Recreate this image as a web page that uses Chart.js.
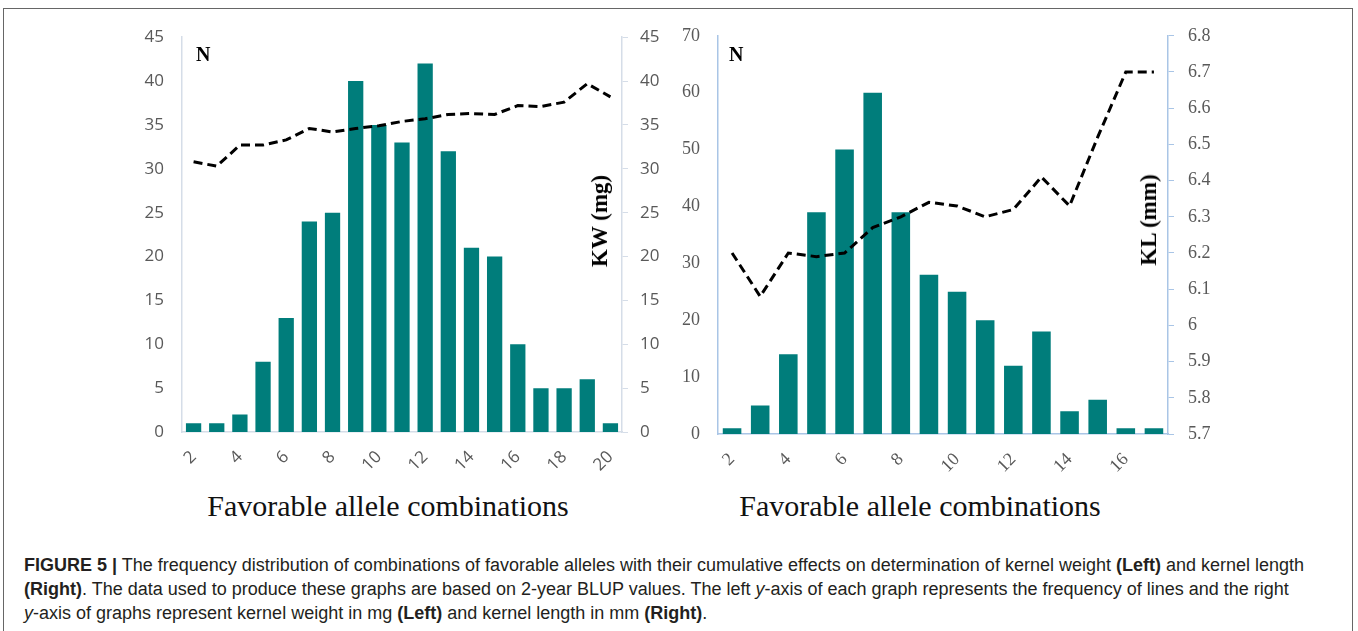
<!DOCTYPE html>
<html>
<head>
<meta charset="utf-8">
<script src="https://cdn.jsdelivr.net/npm/chart.js@4.4.1/dist/chart.umd.min.js"></script>
<style>
  html, body { margin: 0; padding: 0; background: #fff; }
  body { width: 1358px; height: 631px; position: relative; overflow: hidden; }
  .frame { position: absolute; left: 3px; top: 8px; width: 1350px; height: 640px; border: 1.5px solid #666; box-sizing: border-box; }
  canvas { position: absolute; }
  .lbl { position: absolute; white-space: nowrap; line-height: 1; color: #000; }
  .n { font: bold 20px "Liberation Serif", serif; }
  .ytitle { font: bold 23px "Liberation Serif", serif; transform: translate(-50%, -50%) rotate(-90deg); }
  .xtitle { font: 30px "Liberation Serif", serif; transform: translateX(-50%); color: #111; }
  .caption { position: absolute; left: 24px; top: 553px; font: 18px "Liberation Sans", Arial, sans-serif; color: #231f20; line-height: 24px; white-space: nowrap; }
  .caption b { font-weight: bold; }
</style>
</head>
<body>
<div class="frame"></div>
<canvas id="kw" width="580" height="471" style="left:100px;top:9px;"></canvas>
<canvas id="kl" width="580" height="473" style="left:660px;top:7px;"></canvas>

<div class="lbl n" style="left:196px;top:43px;">N</div>
<div class="lbl n" style="left:729px;top:43px;">N</div>
<div class="lbl ytitle" style="left:600px;top:221px;">KW (mg)</div>
<div class="lbl ytitle" style="left:1149px;top:220px;">KL (mm)</div>
<div class="lbl xtitle" style="left:388px;top:489px;">Favorable allele combinations</div>
<div class="lbl xtitle" style="left:920px;top:489px;">Favorable allele combinations</div>

<div class="caption">
<b>FIGURE 5 |</b> The frequency distribution of combinations of favorable alleles with their cumulative effects on determination of kernel weight <b>(Left)</b> and kernel length<br>
<b>(Right)</b>. The data used to produce these graphs are based on 2-year BLUP values. The left <i>y</i>-axis of each graph represents the frequency of lines and the right<br>
<i>y</i>-axis of graphs represent kernel weight in mg <b>(Left)</b> and kernel length in mm <b>(Right)</b>.
</div>

<script>
// Kernel weight panel: number of lines per count of favorable alleles, and mean KW (mg)
const kwCombos = [2, 3, 4, 5, 6, 7, 8, 9, 10, 11, 12, 13, 14, 15, 16, 17, 18, 19, 20];
const kwLines  = [1, 1, 2, 8, 13, 24, 25, 40, 35, 33, 42, 32, 21, 20, 10, 5, 5, 6, 1];
const kwMean   = [30.8, 30.3, 32.7, 32.7, 33.3, 34.6, 34.2, 34.6, 34.9, 35.4, 35.7, 36.2, 36.3, 36.2, 37.2, 37.1, 37.6, 39.7, 38.2];

// Kernel length panel: number of lines per count of favorable alleles, and mean KL (mm)
const klCombos = [2, 3, 4, 5, 6, 7, 8, 9, 10, 11, 12, 13, 14, 15, 16, 17];
const klLines  = [1, 5, 14, 39, 50, 60, 39, 28, 25, 20, 12, 18, 4, 6, 1, 1];
const klMean   = [6.20, 6.08, 6.20, 6.19, 6.20, 6.27, 6.30, 6.34, 6.33, 6.30, 6.32, 6.41, 6.33, 6.52, 6.70, 6.70];

const BAR = '#007d7b';
const AXIS_A = '#d5dde8';
const AXIS_B = '#a9c5e6';
const TICK_TXT = '#595959';

function fixed(size) {
  return function (scale) {
    if (scale.isHorizontal()) scale.height = size; else scale.width = size;
  };
}

function panel(id, cfg) {
  const cats = cfg.cats;
  return new Chart(document.getElementById(id), {
    data: {
      labels: cats,
      datasets: [
        {
          type: 'line', data: cfg.mean, yAxisID: 'y1', order: 0,
          borderColor: '#000', borderWidth: 3, borderDash: [9, 5],
          pointRadius: 0, tension: 0, fill: false
        },
        {
          type: 'bar', data: cfg.lines, yAxisID: 'y', order: 1,
          backgroundColor: BAR, barPercentage: 0.66, categoryPercentage: 1.0
        }
      ]
    },
    options: {
      responsive: false, animation: false, devicePixelRatio: 1,
      layout: { padding: { top: cfg.top, left: 0, right: 0, bottom: 0 } },
      plugins: { legend: { display: false }, tooltip: { enabled: false } },
      scales: {
        x: {
          afterFit: fixed(cfg.xh),
          grid: { display: false, drawTicks: false },
          border: { display: true, color: cfg.axisColor, width: 1.5 },
          ticks: {
            autoSkip: false, minRotation: 45, maxRotation: 45, padding: 15,
            color: TICK_TXT, font: cfg.tickFont,
            callback: function (v, i) { return cats[i] % 2 === 0 ? String(cats[i]) : ''; }
          }
        },
        y: {
          position: 'left', min: 0, max: cfg.yMax,
          afterFit: fixed(cfg.lw),
          grid: { display: false, drawTicks: false },
          border: { display: true, color: cfg.axisColor, width: 1.5 },
          ticks: { stepSize: cfg.yStep, padding: cfg.lpad, color: TICK_TXT, font: cfg.tickFont }
        },
        y1: {
          position: 'right', min: cfg.rMin, max: cfg.rMax,
          afterFit: fixed(cfg.rw),
          grid: { display: true, drawOnChartArea: false, drawTicks: true, tickLength: 6, color: cfg.axisColor },
          border: { display: true, color: cfg.axisColor, width: 1.5 },
          ticks: {
            stepSize: cfg.rStep, padding: cfg.rpad, color: TICK_TXT, font: cfg.tickFont,
            callback: function (v) { return String(Number(v.toFixed(1))); }
          }
        }
      }
    }
  });
}

panel('kw', {
  cats: kwCombos, lines: kwLines, mean: kwMean,
  yMax: 45, yStep: 5, rMin: 0, rMax: 45, rStep: 5,
  top: 15, xh: 48, lw: 82, rw: 58, lpad: 18, rpad: 12,
  axisColor: AXIS_A,
  tickFont: { family: '"Open Sans", sans-serif', size: 17 }
});

panel('kl', {
  cats: klCombos, lines: klLines, mean: klMean,
  yMax: 70, yStep: 10, rMin: 5.7, rMax: 6.8, rStep: 0.1,
  top: 14, xh: 46, lw: 58, rw: 72, lpad: 18, rpad: 14,
  axisColor: AXIS_B,
  tickFont: { family: '"Liberation Serif", serif', size: 18 }
});
</script>
</body>
</html>
